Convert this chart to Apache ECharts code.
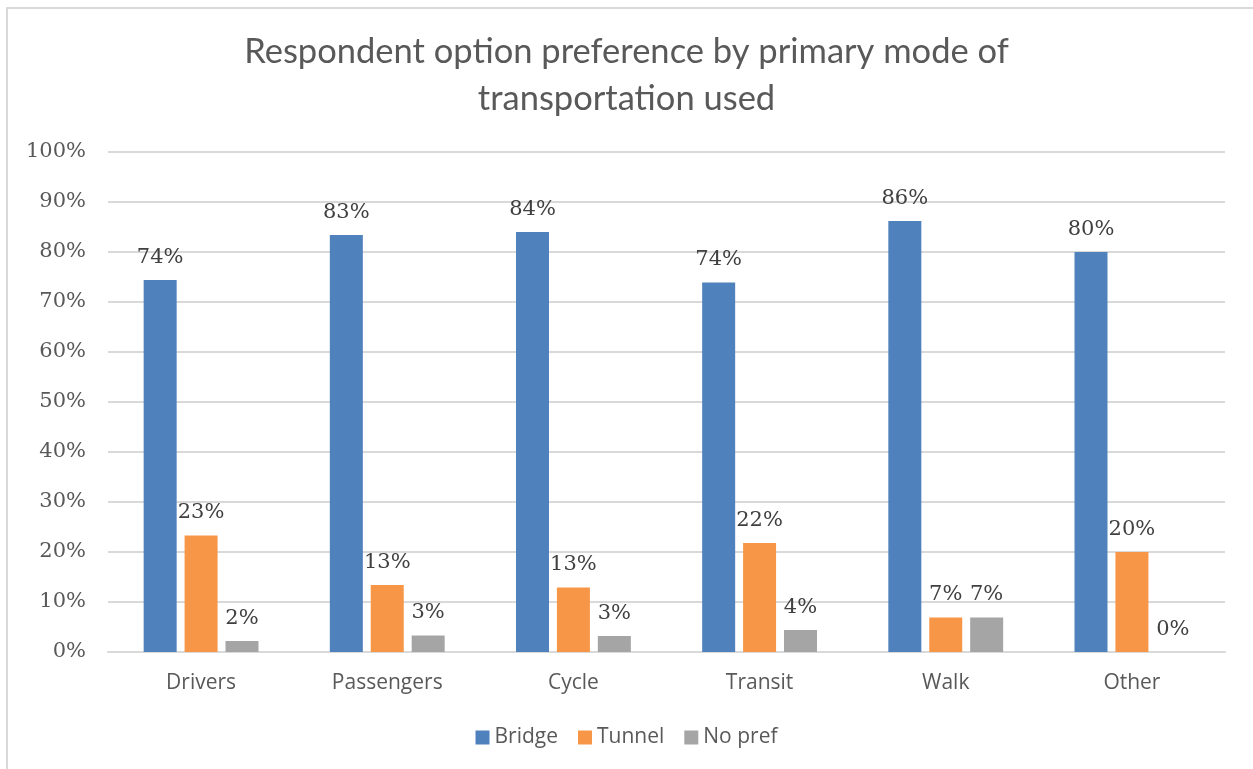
<!DOCTYPE html>
<html>
<head>
<meta charset="utf-8">
<script src="https://cdn.jsdelivr.net/npm/echarts@6/dist/echarts.min.js"></script>
<style>
html,body{margin:0;padding:0;background:#fff;overflow:hidden;}
#frame{position:absolute;left:6px;top:7px;width:1400px;height:900px;border-left:2px solid #d9d9d9;border-top:2px solid #d9d9d9;}
#chart{position:absolute;left:0;top:0;width:1253px;height:769px;}
</style>
</head>
<body>
<div id="frame"></div>
<div id="chart"></div>
<script>
const categories = ['Drivers','Passengers','Cycle','Transit','Walk','Other'];
const bridge = [74.4, 83.4, 84.0, 73.9, 86.2, 80.0];
const tunnel = [23.3, 13.4, 12.9, 21.8, 6.9, 20.0];
const noPref = [2.2, 3.3, 3.2, 4.4, 6.9, 0.0];
const seriesNames = ['Bridge','Tunnel','No pref'];
const colors = ['#4f81bd','#f79646','#a5a5a5'];

const chart = echarts.init(document.getElementById('chart'));
const labelStyle = {
  show: true, position: 'top', distance: 12,
  fontFamily: 'DejaVu Serif', fontSize: 21, color: '#404040',
  formatter: p => Math.round(p.value) + '%'
};
function mk(name, data, color){
  return {
    name, type: 'bar', data, barWidth: 33, barGap: '24%',
    itemStyle: {color},
    label: labelStyle
  };
}
chart.setOption({
  animation: false,
  title: {
    text: 'Respondent option preference by primary mode of\ntransportation used',
    left: 'center', top: 23,
    textStyle: {fontFamily: 'Lato', fontSize: 34.5, fontWeight: 'normal', color: '#595959', lineHeight: 47}
  },
  legend: {
    bottom: 16, left: 'center', itemWidth: 14, itemHeight: 14, itemGap: 20,
    icon: 'rect',
    textStyle: {fontFamily: 'Open Sans', fontSize: 21, color: '#595959'}
  },
  grid: {left: 108, right: 28, top: 152, bottom: 117},
  xAxis: {
    type: 'category', data: categories,
    axisLine: {lineStyle: {color: '#d9d9d9', width: 2}},
    axisTick: {show: false},
    axisLabel: {fontFamily: 'Open Sans', fontSize: 21, color: '#595959', margin: 21}
  },
  yAxis: {
    type: 'value', min: 0, max: 100, interval: 10,
    axisLine: {show: false}, axisTick: {show: false},
    splitLine: {lineStyle: {color: '#d9d9d9', width: 2}},
    axisLabel: {fontFamily: 'DejaVu Serif', fontSize: 21, color: '#595959', margin: 22, formatter: v => v + '%'}
  },
  series: [mk(seriesNames[0], bridge, colors[0]), mk(seriesNames[1], tunnel, colors[1]), mk(seriesNames[2], noPref, colors[2])]
});
</script>
</body>
</html>
